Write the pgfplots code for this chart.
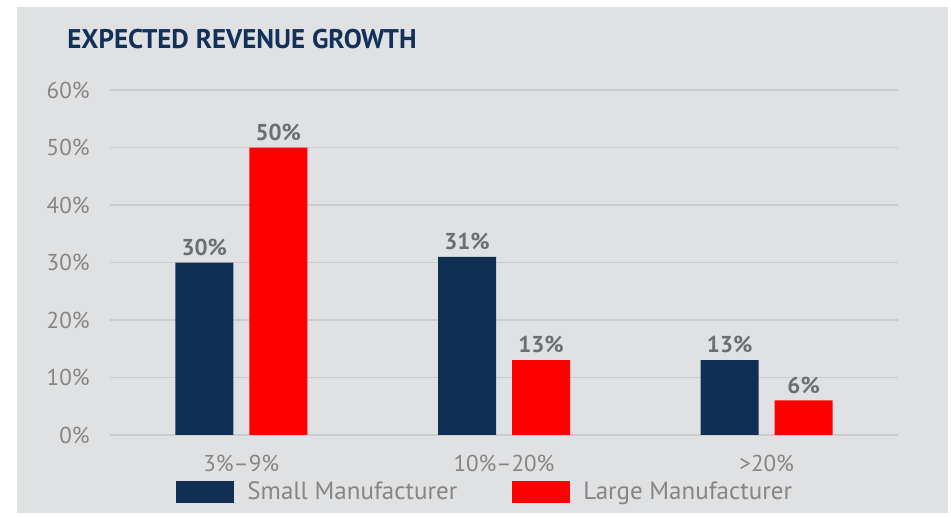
\documentclass[border=0pt]{standalone}
\usepackage{pgfplots}
\pgfplotsset{compat=1.18}
\usepackage{fontspec}
\setmainfont{PT Sans}
\definecolor{navy}{HTML}{112F55}
\definecolor{bg}{HTML}{E0E1E3}
\definecolor{gridc}{HTML}{CACBCD}
\definecolor{tickc}{HTML}{858585}
\definecolor{valc}{HTML}{6D6E71}
\definecolor{titlec}{HTML}{12315A}
\definecolor{bred}{HTML}{FF0000}
\begin{document}
\begin{tikzpicture}[x=1pt,y=1pt]
\fill[white] (0,0) rectangle (475.5,259);
\useasboundingbox (0,0) rectangle (475.5,259);
\fill[bg] (8.5,2.5) rectangle (474,255.5);
\node[anchor=west, font=\bfseries\fontsize{13.5}{16}\selectfont, text=titlec, inner sep=0pt] at (33.5,239.5) {EXPECTED REVENUE GROWTH};
\begin{axis}[
  at={(55pt,41.5pt)}, anchor=south west,
  scale only axis, width=394pt, height=172.5pt,
  xmin=-0.5, xmax=2.5, ymin=0, ymax=60,
  ybar=8pt, bar width=29pt,
  axis line style={draw=none},
  major tick style={draw=none},
  ymajorgrids, grid style={gridc, line width=0.6pt},
  xtick={0,1,2},
  xticklabels={3\%\textendash9\%, 10\%\textendash20\%, >20\%},
  ytick={0,10,...,60},
  yticklabel={\pgfmathprintnumber{\tick}\%},
  /pgf/number format/assume math mode=true,
  tick label style={font=\fontsize{11.5}{13.8}\selectfont, text=tickc, inner sep=0pt},
  yticklabel style={xshift=-10pt},
  xticklabel style={yshift=-5.5pt},
  nodes near coords={\pgfmathprintnumber{\pgfplotspointmeta}\%},
  nodes near coords style={font=\bfseries\fontsize{11.5}{13.8}\selectfont, text=valc, /pgf/number format/assume math mode=true},
  legend image code/.code={\fill[#1] (0pt,-5.5pt) rectangle (29pt,5.5pt);},
  legend columns=2,
  legend style={at={(axis description cs:0.0838,-0.165)}, anchor=west, draw=none, fill=none, inner sep=0pt,
    font=\fontsize{12.5}{15}\selectfont, text=tickc,
    /tikz/every odd column/.append style={column sep=4.5pt},
    /tikz/every even column/.append style={column sep=25.5pt}},
]
\addplot[fill=navy, draw=none] coordinates {(0,30) (1,31) (2,13)};
\addplot[fill=bred, draw=none] coordinates {(0,50) (1,13) (2,6)};
\legend{Small Manufacturer, Large Manufacturer}
\end{axis}
\end{tikzpicture}
\end{document}
